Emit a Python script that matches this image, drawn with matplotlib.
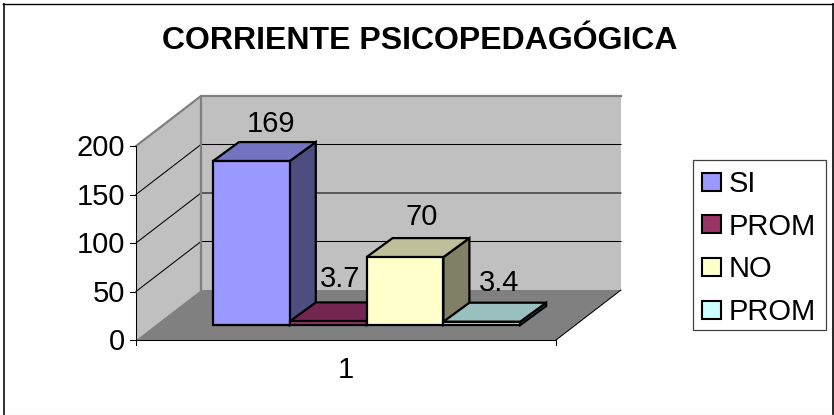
import matplotlib
matplotlib.use("Agg")
import matplotlib.pyplot as plt
from matplotlib.patches import Polygon, Rectangle

plt.rcParams['font.family'] = ['Liberation Sans', 'DejaVu Sans']

TITLE = "CORRIENTE PSICOPEDAGÓGICA"
SERIES = ["SI", "PROM", "NO", "PROM"]
VALUES = [169, 3.7, 70, 3.4]
VALUE_LABELS = ["169", "3.7", "70", "3.4"]
Y_TICKS = [0, 50, 100, 150, 200]
CATEGORY = "1"
COLORS = ["#9999FF", "#993366", "#FFFFCC", "#CCFFFF"]
SIDES = ["#4D4D80", "#4D1A33", "#808066", "#668080"]
TOPS = ["#7373BF", "#732650", "#BFBF99", "#99BFBF"]

# pixel layout of the fake 3d box
X0, X1 = 136, 556
Y0 = 340
PX_PER_UNIT = 0.97
DEPTH_X, DEPTH_Y = 65, -50
BAR_LEFT, BAR_W = 213, 76.8
BAR_BOTTOM = 325
BAR_DX, BAR_DY = 26, -19
LABEL_DX = [20, 12, 17, 17]
LABEL_DY = [-40, -45, -43, -42]
FS_TICK = 21


def wall(x, v, depth=0.0):
    """Box coordinates to pixels: depth 0 is the front, 1 the back wall."""
    return X0 + x + DEPTH_X * depth, Y0 - v * PX_PER_UNIT + DEPTH_Y * depth


def draw_wall_parts(ax):
    ymax = Y_TICKS[-1]
    w = X1 - X0
    ax.add_patch(Polygon([wall(0, 0, 1), wall(w, 0, 1), wall(w, ymax, 1), wall(0, ymax, 1)],
                         fc="#C0C0C0", ec="none", zorder=1))
    ax.add_patch(Polygon([wall(0, 0), wall(0, 0, 1), wall(0, ymax, 1), wall(0, ymax)],
                         fc="#C0C0C0", ec="none", zorder=1))
    ax.add_patch(Polygon([wall(0, 0), wall(w, 0), wall(w, 0, 1), wall(0, 0, 1)],
                         fc="#808080", ec="none", zorder=1))
    for t in Y_TICKS[1:-1]:
        pts = [wall(0, t), wall(0, t, 1), wall(w, t, 1)]
        ax.plot(*zip(*pts), color="black", lw=0.75, zorder=2)
    rim = [wall(0, ymax), wall(0, ymax, 1), wall(w, ymax, 1)]
    ax.plot(*zip(*rim), color="#808080", lw=1.6, zorder=2)
    ax.plot(*zip(wall(0, 0, 1), wall(0, ymax, 1)), color="#808080", lw=1.6, zorder=2)

    # axes lines and ticks
    ax.plot(*zip(wall(0, 0), wall(0, ymax)), color="black", lw=0.75, zorder=3)
    ax.plot(*zip(wall(0, 0), wall(w, 0)), color="black", lw=0.75, zorder=3)
    ax.plot([X0, X0], [Y0, Y0 + 5], color="black", lw=0.75, zorder=3)
    ax.plot([X1, X1], [Y0, Y0 + 5], color="black", lw=0.75, zorder=3)
    ax.plot(*zip(wall(w, 0), wall(w, 0, 1)), color="black", lw=0.75, zorder=3)
    for t in Y_TICKS:
        x, y = wall(0, t)
        ax.plot([x - 6, x], [y, y], color="black", lw=0.75, zorder=3)
        ax.text(x - 10.5, y - 1, str(t), ha="right", va="center_baseline", fontsize=FS_TICK, zorder=5)


def draw_bars(ax):
    for i, v in enumerate(VALUES):
        left = BAR_LEFT + i * BAR_W
        right = left + BAR_W
        top = BAR_BOTTOM - v * PX_PER_UNIT
        z = 10 + i
        edge = dict(ec="black", lw=1.6, joinstyle="miter", zorder=z)
        ax.add_patch(Polygon([(right, BAR_BOTTOM), (right + BAR_DX, BAR_BOTTOM + BAR_DY),
                              (right + BAR_DX, top + BAR_DY), (right, top)],
                             fc=SIDES[i], **edge))
        ax.add_patch(Polygon([(left, top), (left + BAR_DX, top + BAR_DY),
                              (right + BAR_DX, top + BAR_DY), (right, top)],
                             fc=TOPS[i], **edge))
        ax.add_patch(Rectangle((left, top), BAR_W, v * PX_PER_UNIT, fc=COLORS[i], **edge))
        ax.text(left + BAR_W / 2 + LABEL_DX[i], top + LABEL_DY[i], VALUE_LABELS[i],
                ha="center", va="center_baseline", fontsize=FS_TICK, zorder=30)


def draw_legend(ax):
    ax.add_patch(Rectangle((693, 160), 133, 170, fc="white", ec="#404040", lw=0.9, zorder=5))
    for i, name in enumerate(SERIES):
        y = 181.7 + i * 42.6
        ax.add_patch(Rectangle((702, y - 9), 19, 18, fc=COLORS[i], ec="black", lw=1.5, zorder=6))
        ax.text(729, y - 0.5, name, ha="left", va="center_baseline", fontsize=FS_TICK, zorder=6)


def draw_frame(ax):
    # chart frame: dark on three sides, only a faint line along the bottom
    ax.plot([4, 4], [4.5, 415], color="#202020", lw=1.3, zorder=0)
    ax.plot([3.5, 833], [4.5, 4.5], color="black", lw=1.0, zorder=0)
    ax.plot([833, 833], [4, 415], color="black", lw=1.2, zorder=0)
    ax.plot([4, 833], [414.5, 414.5], color="#DDDDDD", lw=0.9, zorder=0)


def main():
    fig = plt.figure(figsize=(8.34, 4.15), dpi=100)
    ax = fig.add_axes([0, 0, 1, 1])
    ax.set_xlim(0, 834)
    ax.set_ylim(415, 0)
    ax.axis('off')

    draw_frame(ax)
    ax.text(420, 37.5, TITLE, ha="center", va="center_baseline", fontsize=23, fontweight="bold")
    draw_wall_parts(ax)
    draw_bars(ax)
    ax.text(346, 367, CATEGORY, ha="center", va="center_baseline", fontsize=FS_TICK)
    draw_legend(ax)

    fig.savefig("out.png", dpi=100)
    plt.close(fig)


if __name__ == "__main__":
    main()
